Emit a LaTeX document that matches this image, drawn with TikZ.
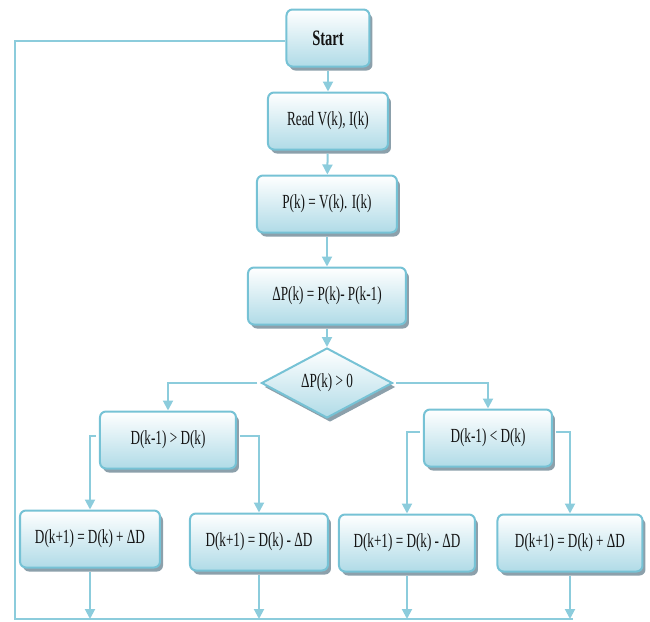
\documentclass[tikz,border=0pt]{standalone}
\usepackage{fontspec}
\setmainfont{Liberation Serif}[FakeStretch=0.66]
\usepackage{tikz}
\usetikzlibrary{
  shapes.geometric,
  arrows.meta,
  positioning,
  shadows
}
\definecolor{flowcolor}{RGB}{140, 204, 220}
\definecolor{bordercolor}{RGB}{118, 194, 213}
\definecolor{fillcolor}{RGB}{176, 219, 231}
\definecolor{shadowcolor}{RGB}{128, 150, 162}
\definecolor{labelcolor}{RGB}{20, 20, 20}
\tikzset{
blocktext/.style={
  align=center,
  font=\fontsize{10}{12}\selectfont,
  text=labelcolor
},
block/.style={
  draw=bordercolor,
  line width=1pt,
  rounded corners=3pt,
  top color=white,
  bottom color=fillcolor,
  drop shadow={shadow xshift=1.5pt, shadow yshift=-2pt, fill=shadowcolor, opacity=0.9},
  inner sep=2pt,
  minimum height=28.5pt,
  blocktext
},
decisionblock/.style={
  block,
  diamond,
  rounded corners=0pt,
  inner sep=0pt,
  minimum width=65.5pt,
  minimum height=35pt
},
flowline/.style={
  line width=1pt,
  draw=flowcolor
},
arrow/.style={
  flowline,
  -{Triangle[length=5pt,width=5pt]},
  shorten <=1.5pt
}
}
\begin{document}
\begin{tikzpicture}[x=0.5pt, y=-0.5pt]
  \useasboundingbox (0,0) rectangle (650,622);

  % main column
  \node[block, minimum width=41.5pt, font=\fontsize{11}{13}\selectfont\bfseries] (start) at (328,38) {Start};
  \node[block, minimum width=60pt] (readvi) at (328,121) {Read V(k), I(k)};
  \node[block, minimum width=70pt] (power) at (327,204) {P(k) = V(k). I(k)};
  \node[block, minimum width=79pt] (deltap) at (327,296) {ΔP(k) = P(k)- P(k-1)};
  \node[decisionblock] (decision) at (327,383) {ΔP(k) > 0};

  % branches
  \node[block, minimum width=68pt] (dleft) at (168,440) {D(k-1) > D(k)};
  \node[block, minimum width=64pt] (dright) at (488,438) {D(k-1) < D(k)};
  \node[block, minimum width=70pt] (incleft) at (90,539) {D(k+1) = D(k) + ΔD};
  \node[block, minimum width=69pt] (decleft) at (259,542) {D(k+1) = D(k) - ΔD};
  \node[block, minimum width=68pt] (decright) at (407,543) {D(k+1) = D(k) - ΔD};
  \node[block, minimum width=72.5pt] (incright) at (570,543) {D(k+1) = D(k) + ΔD};

  \coordinate (loopbl) at (15,619);
  \coordinate (loopbr) at (573,619);

  \draw[arrow] (start) -- (readvi);
  \draw[arrow] (readvi) -- (power);
  \draw[arrow] (power) -- (deltap);
  \draw[arrow] (deltap) -- (decision);

  \draw[arrow] (decision.west) -| (dleft.north);
  \draw[arrow] (decision.east) -| (dright.north);
  \draw[arrow] ([yshift=2pt]dleft.west) -| (incleft.north);
  \draw[arrow] ([yshift=2pt]dleft.east) -| (decleft.north);
  \draw[arrow] ([yshift=3pt]dright.west) -| (decright.north);
  \draw[arrow] ([yshift=3pt]dright.east) -| (incright.north);

  % back to start
  \foreach \result in {incleft, decleft, decright, incright}
    \draw[arrow] (\result.south) -- (\result.south |- loopbl);
  \draw[flowline] (loopbr) -- (loopbl) |- ([yshift=-1.5pt]start.west);
\end{tikzpicture}
\end{document}
